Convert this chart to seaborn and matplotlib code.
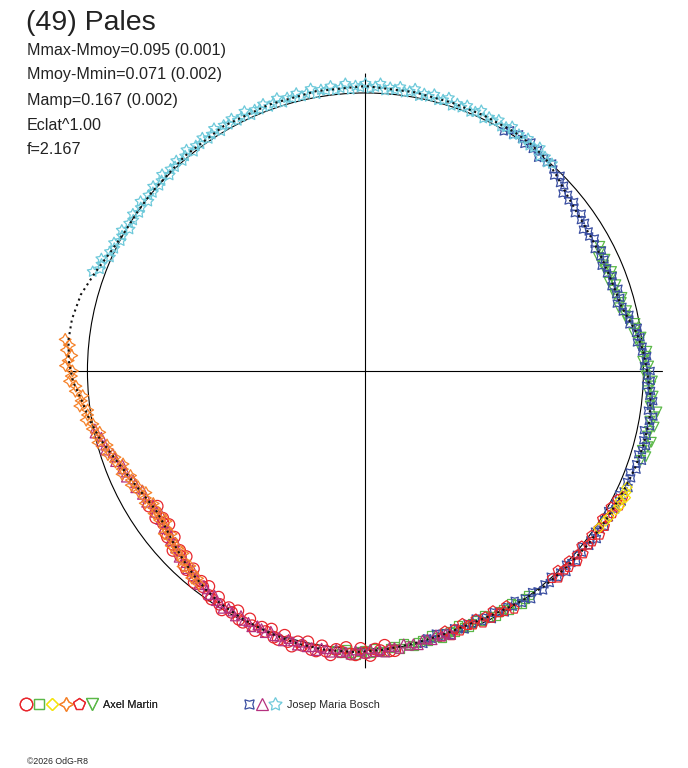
import numpy as np
import matplotlib
matplotlib.use("Agg")
import matplotlib.pyplot as plt
import seaborn as sns
from matplotlib.lines import Line2D
from matplotlib.legend_handler import HandlerTuple

sns.set_theme(style="white")
plt.rcParams['font.family'] = ['Liberation Sans', 'DejaVu Sans']

# phase angle in degrees, radius relative to the mean-magnitude circle
fit_deg = [0, 4, 8, 11, 14, 18, 22, 26, 30, 34, 38, 42, 46, 50, 54, 58, 65, 72, 80, 90,
           100, 110, 120, 130, 140, 145, 150, 155, 160, 165, 170, 174, 178, 182, 186, 190,
           194, 198, 202, 206, 210, 214, 218, 222, 226, 230, 234, 238, 244, 250, 256, 262,
           268, 274, 280, 286, 292, 298, 304, 310, 316, 322, 328, 334, 340, 345, 350, 355, 360]
fit_r = [1.013, 1.002, 0.985, 0.966, 0.950, 0.944, 0.942, 0.942, 0.943, 0.946, 0.953, 0.966,
         0.985, 1.003, 1.010, 1.013, 1.013, 1.014, 1.018, 1.025, 1.022, 1.019, 1.018, 1.010,
         1.002, 1.000, 1.000, 1.012, 1.035, 1.060, 1.072, 1.074, 1.068, 1.053, 1.026, 1.008,
         0.988, 0.962, 0.941, 0.925, 0.912, 0.905, 0.913, 0.928, 0.944, 0.960, 0.974, 0.986,
         0.996, 1.004, 1.011, 1.014, 1.012, 1.005, 0.996, 0.989, 0.985, 0.990, 1.000, 1.007,
         1.011, 1.015, 1.018, 1.023, 1.031, 1.035, 1.037, 1.030, 1.013]

# ---- Axel Martin ----
circle_deg = [212, 213, 214, 215, 216, 217, 218, 219, 220, 221, 222, 223, 224, 225, 226, 227,
              228, 229, 230, 231, 232, 233, 234, 235, 236, 237, 238, 239, 240, 241, 242, 243,
              244, 245, 246, 247, 248, 249, 250, 251, 252, 253, 254, 255, 256, 257, 258, 259,
              260, 261, 262, 263, 264, 265, 266, 267, 268, 269, 270, 271, 272, 273, 274, 275, 276]
circle_r = [0.918, 0.893, 0.909, 0.921, 0.901, 0.911, 0.897, 0.925, 0.930, 0.911, 0.932, 0.947,
            0.929, 0.941, 0.928, 0.956, 0.962, 0.943, 0.964, 0.979, 0.960, 0.972, 0.958, 0.985,
            0.990, 0.970, 0.990, 1.003, 0.983, 0.993, 0.977, 1.003, 1.006, 0.984, 1.003, 1.015,
            0.994, 1.004, 0.988, 1.013, 1.016, 0.994, 1.013, 1.025, 1.004, 1.013, 0.996, 1.021,
            1.023, 1.001, 1.018, 1.029, 1.007, 1.014, 0.997, 1.020, 1.022, 0.998, 1.014, 1.024,
            1.001, 1.007, 0.989, 1.011, 1.012]

square_deg = [264, 265, 266, 267, 268, 269, 270, 271, 272, 273, 274, 275, 276, 277, 278, 279,
              280, 281, 282, 283, 284, 285, 286, 287, 288, 289, 290, 291, 292, 293, 294, 295,
              296, 297, 298, 299, 300, 301, 302, 303, 304, 305, 306]
square_r = [1.009, 1.019, 1.002, 1.014, 1.021, 1.009, 1.005, 1.015, 0.997, 1.008, 1.014, 1.001,
            0.997, 1.006, 0.988, 0.999, 1.005, 0.993, 0.989, 0.998, 0.980, 0.992, 0.998, 0.986,
            0.983, 0.993, 0.975, 0.988, 0.994, 0.984, 0.982, 0.993, 0.977, 0.991, 0.999, 0.990,
            0.988, 1.001, 0.986, 1.000, 1.009, 0.999, 0.997]

diamond_deg = [326, 328, 329, 331, 332, 333, 334, 335, 336]
diamond_r = [1.012, 1.018, 1.022, 1.030, 1.035, 1.028, 1.040, 1.033, 1.030]

star4_deg = [174, 175, 176, 177, 178, 179, 180, 181, 182, 183, 184, 185, 186, 187, 188, 189,
             190, 191, 192, 193, 194, 195, 196, 197, 198, 199, 200, 201, 202, 203, 204, 205,
             206, 207, 208, 209, 210, 211, 212, 213, 214, 215, 216, 217, 218, 219, 220, 221,
             222, 223, 224, 225, 226, 227, 228, 229, 230, 231, 232]
star4_r = [1.086, 1.069, 1.078, 1.058, 1.070, 1.079, 1.054, 1.058, 1.065, 1.043, 1.046, 1.021,
           1.028, 1.035, 1.009, 1.012, 1.020, 0.999, 1.004, 0.981, 0.990, 0.996, 0.967, 0.969,
           0.974, 0.953, 0.957, 0.934, 0.943, 0.951, 0.925, 0.929, 0.937, 0.918, 0.924, 0.903,
           0.914, 0.924, 0.900, 0.906, 0.917, 0.902, 0.914, 0.898, 0.915, 0.931, 0.912, 0.924,
           0.940, 0.928, 0.942, 0.928, 0.946, 0.962, 0.944, 0.956, 0.972, 0.960, 0.973]

pentagon_deg = [286, 287, 288, 289, 290, 291, 292, 293, 294, 295, 296, 297, 298, 299, 300, 301,
                302, 312, 313, 314, 315, 316, 317, 318, 319, 320, 321, 322, 323, 324, 325, 326,
                327, 328, 329, 330, 331, 332, 333, 334]
pentagon_r = [0.995, 0.978, 1.001, 0.983, 0.995, 0.973, 0.987, 0.992, 0.977, 1.000, 0.984, 0.998,
              0.977, 0.994, 0.999, 0.985, 1.010, 1.004, 1.018, 0.997, 1.012, 1.017, 1.002, 1.025,
              1.009, 1.023, 1.001, 1.017, 1.021, 1.006, 1.029, 1.013, 1.026, 1.005, 1.021, 1.026,
              1.010, 1.034, 1.018, 1.032]

tridown_deg = [342, 343, 344, 345, 346, 347, 348, 349, 350, 351, 352, 353, 354, 355, 356, 357,
               358, 359, 0, 1, 2, 3, 4, 5, 6, 7, 8, 9, 10, 11, 12, 13, 14, 15, 16, 17, 18, 19,
               20, 21, 22, 23, 24, 25, 26, 27, 28]
tridown_r = [1.041, 1.055, 1.036, 1.052, 1.060, 1.041, 1.044, 1.058, 1.039, 1.053, 1.059, 1.032,
             1.033, 1.039, 1.017, 1.028, 1.033, 1.009, 1.009, 1.019, 0.998, 1.010, 1.015, 0.991,
             0.990, 0.999, 0.975, 0.984, 0.985, 0.959, 0.957, 0.964, 0.940, 0.953, 0.960, 0.938,
             0.940, 0.953, 0.933, 0.948, 0.955, 0.935, 0.938, 0.951, 0.932, 0.947, 0.955]

# ---- Josep Maria Bosch ----
astroid_deg = [282, 283, 284, 285, 286, 287, 288, 289, 290, 291, 292, 293, 294, 295, 296, 297,
               298, 299, 300, 301, 302, 303, 304, 305, 306, 307, 308, 309, 310, 311, 312, 313,
               314, 315, 316, 317, 318, 319, 320, 321, 322, 323, 324, 325, 326, 327, 328, 329,
               330, 331, 332, 333, 334, 335, 336, 337, 338, 339, 340, 341, 342, 343, 344, 345,
               346, 347, 348, 349, 350, 351, 352, 353, 354, 355, 356, 357, 358, 359, 0, 1, 2, 3,
               4, 5, 6, 7, 8, 9, 10, 11, 12, 13, 14, 15, 16, 17, 18, 19, 20, 21, 22, 23, 24, 25,
               26, 27, 28, 29, 30, 31, 32, 33, 34, 35, 36, 37, 38, 39, 40, 41, 42, 43, 44, 45,
               46, 47, 48, 49, 50, 51, 52, 53, 54, 55, 56, 57, 58, 59, 60]
astroid_r = [1.004, 0.987, 0.994, 0.978, 0.996, 0.986, 1.001, 0.979, 0.987, 0.996, 0.980, 0.989,
             0.975, 0.994, 0.986, 1.002, 0.982, 0.993, 1.003, 0.990, 1.000, 0.986, 1.007, 0.999,
             1.015, 0.996, 1.006, 1.016, 1.002, 1.011, 0.996, 1.016, 1.008, 1.023, 1.003, 1.013,
             1.022, 1.008, 1.017, 1.002, 1.022, 1.013, 1.029, 1.008, 1.018, 1.027, 1.013, 1.022,
             1.008, 1.027, 1.019, 1.035, 1.015, 1.025, 1.036, 1.022, 1.031, 1.018, 1.038, 1.030,
             1.046, 1.026, 1.035, 1.045, 1.030, 1.039, 1.024, 1.044, 1.035, 1.049, 1.026, 1.034,
             1.041, 1.025, 1.030, 1.011, 1.027, 1.014, 1.026, 1.002, 1.009, 1.015, 0.997, 1.001,
             0.982, 0.997, 0.983, 0.992, 0.964, 0.967, 0.971, 0.950, 0.953, 0.936, 0.954, 0.943,
             0.957, 0.936, 0.944, 0.953, 0.937, 0.945, 0.930, 0.949, 0.940, 0.955, 0.934, 0.943,
             0.953, 0.939, 0.947, 0.933, 0.953, 0.946, 0.962, 0.943, 0.954, 0.966, 0.954, 0.966,
             0.954, 0.978, 0.973, 0.993, 0.977, 0.991, 1.004, 0.994, 1.000, 0.987, 1.008, 1.000,
             1.016, 0.997, 1.007, 1.015, 1.002, 1.010, 0.995]

triup_deg = [192, 193, 194, 195, 196, 197, 198, 199, 200, 201, 202, 203, 204, 205, 206, 207,
             208, 209, 210, 211, 212, 213, 214, 215, 216, 217, 218, 219, 220, 221, 222, 223,
             224, 225, 226, 227, 228, 229, 230, 231, 232, 233, 234, 235, 236, 237, 238, 239,
             240, 241, 242, 243, 244, 245, 246, 247, 248, 249, 250, 251, 252, 253, 254, 255,
             256, 257, 258, 259, 260, 261, 262, 263, 264, 265, 266, 267, 268, 269, 270, 271,
             272, 273, 274, 275, 276, 277, 278, 279, 280, 281, 282, 283, 284, 285, 286, 287, 288]
triup_r = [0.995, 1.000, 0.979, 0.986, 0.974, 0.979, 0.956, 0.954, 0.958, 0.937, 0.945, 0.936,
           0.943, 0.923, 0.922, 0.929, 0.909, 0.919, 0.911, 0.920, 0.902, 0.903, 0.912, 0.897,
           0.912, 0.909, 0.923, 0.911, 0.917, 0.931, 0.919, 0.936, 0.935, 0.950, 0.938, 0.945,
           0.959, 0.947, 0.964, 0.963, 0.977, 0.965, 0.971, 0.984, 0.971, 0.987, 0.985, 0.998,
           0.984, 0.989, 1.000, 0.986, 1.000, 0.996, 1.009, 0.994, 0.998, 1.010, 0.995, 1.009,
           1.005, 1.017, 1.003, 1.007, 1.018, 1.003, 1.016, 1.012, 1.023, 1.008, 1.011, 1.021,
           1.005, 1.017, 1.012, 1.022, 1.006, 1.008, 1.017, 1.000, 1.012, 1.005, 1.015, 0.997,
           0.999, 1.007, 0.990, 1.001, 0.995, 1.005, 0.988, 0.989, 0.998, 0.981, 0.993, 0.987,
           0.998]

star5_deg = [48, 49, 50, 51, 52, 53, 54, 55, 56, 57, 58, 59, 60, 61, 62, 63, 64, 65, 66, 67, 68,
             69, 70, 71, 72, 73, 74, 75, 76, 77, 78, 79, 80, 81, 82, 83, 84, 85, 86, 87, 88, 89,
             90, 91, 92, 93, 94, 95, 96, 97, 98, 99, 100, 101, 102, 103, 104, 105, 106, 107, 108,
             109, 110, 111, 112, 113, 114, 115, 116, 117, 118, 119, 120, 121, 122, 123, 124, 125,
             126, 127, 128, 129, 130, 131, 132, 133, 134, 135, 136, 137, 138, 139, 140, 141, 142,
             143, 144, 145, 146, 147, 148, 149, 150, 151, 152, 153, 154, 155, 156, 157, 158, 159,
             160]
star5_r = [1.003, 0.995, 1.005, 0.995, 1.019, 1.007, 1.003, 1.020, 1.008, 1.014, 1.003, 1.025,
           1.012, 1.006, 1.022, 1.009, 1.015, 1.003, 1.025, 1.012, 1.006, 1.022, 1.009, 1.016,
           1.004, 1.027, 1.014, 1.009, 1.025, 1.013, 1.019, 1.008, 1.030, 1.018, 1.012, 1.029,
           1.017, 1.023, 1.012, 1.035, 1.023, 1.017, 1.034, 1.021, 1.026, 1.014, 1.036, 1.022,
           1.016, 1.032, 1.019, 1.024, 1.012, 1.034, 1.020, 1.014, 1.029, 1.016, 1.022, 1.010,
           1.031, 1.018, 1.012, 1.028, 1.015, 1.020, 1.008, 1.030, 1.017, 1.011, 1.027, 1.014,
           1.020, 1.007, 1.028, 1.015, 1.008, 1.023, 1.009, 1.014, 1.002, 1.023, 1.009, 1.002,
           1.017, 1.004, 1.009, 0.996, 1.017, 1.003, 0.997, 1.012, 0.998, 1.004, 0.991, 1.013,
           0.999, 0.993, 1.009, 0.996, 1.002, 0.990, 1.012, 1.001, 0.997, 1.015, 1.005, 1.014,
           1.006, 1.032, 1.024, 1.023, 1.044]

RED = '#e8262c'
GREEN = '#5bb848'
YELLOW = '#f4e40c'
ORANGE = '#f5822a'
BLUE = '#3b4fa1'
MAGENTA = '#b5317f'
CYAN = '#6dc9da'

series = [
    (square_deg, square_r, 's', 36, GREEN),
    (tridown_deg, tridown_r, 'v', 48, GREEN),
    (astroid_deg, astroid_r, (4, 1, 45), 55, BLUE),
    (circle_deg, circle_r, 'o', 68, RED),
    (pentagon_deg, pentagon_r, 'p', 52, RED),
    (diamond_deg, diamond_r, 'D', 28, YELLOW),
    (triup_deg, triup_r, '^', 40, MAGENTA),
    (star4_deg, star4_r, (4, 1, 0), 72, ORANGE),
    (star5_deg, star5_r, (5, 1, 0), 66, CYAN),
]

fig = plt.figure(figsize=(6.88, 7.68), dpi=100)
ax = fig.add_axes([0.0988, 0.1297, 0.8647, 0.7746], projection='polar')
ax.set_facecolor('none')

for deg, r, marker, size, col in series:
    sns.scatterplot(x=np.deg2rad(deg), y=r, ax=ax, marker=marker, s=size, color=col,
                    facecolors='none', edgecolor=col, linewidth=0.9, legend=False,
                    zorder=3, clip_on=False)

# fitted curve drawn as a dotted black line
ax.plot(np.deg2rad(fit_deg), fit_r, color='#111111', lw=1.5, ls=(0, (1.0, 1.8)), zorder=4,
        clip_on=False)

ax.set_ylim(0, 1.07)
ax.set_yticks([1.0])
ax.set_yticklabels([])
ax.set_xticks(np.deg2rad([0, 90, 180, 270]))
ax.set_xticklabels([])
ax.tick_params(length=0)
ax.grid(True, color='black', lw=0.8, ls='-')
ax.spines['polar'].set_visible(False)
ax.set_xlabel('')
ax.set_ylabel('')

fig.text(26 / 688, 1 - 23 / 768, '(49) Pales', fontsize=20.5, va='center', ha='left',
         color='#222222')
info_lines = ['Mmax-Mmoy=0.095 (0.001)', 'Mmoy-Mmin=0.071 (0.002)', 'Mamp=0.167 (0.002)',
              'Eclat^1.00', 'f=2.167']
for i, line in enumerate(info_lines):
    fig.text(27 / 688, 1 - (50 + 25 * i) / 768, line, fontsize=11.6, va='center', ha='left',
             color='#222222')


def mk(marker, col, ms=8):
    return Line2D([], [], marker=marker, ls='none', mfc='none', mec=col, ms=ms, mew=0.9)


martin = (mk('o', RED, 9), mk('s', GREEN, 7.5), mk('D', YELLOW, 6.5), mk((4, 1, 0), ORANGE, 10),
          mk('p', RED, 8.5), mk('v', GREEN, 8))
bosch = (mk((4, 1, 45), BLUE, 9.5), mk('^', MAGENTA, 8), mk((5, 1, 0), CYAN, 10))

leg1 = fig.legend([martin], ['Axel Martin'], loc='center left',
                  bbox_to_anchor=(20 / 688, 1 - 705 / 768), frameon=False, fontsize=7.8,
                  handlelength=7.2, handletextpad=0.45, borderpad=0, borderaxespad=0,
                  handler_map={tuple: HandlerTuple(ndivide=None, pad=0.15)})
fig.add_artist(leg1)
fig.legend([bosch], ['Josep Maria Bosch'], loc='center left',
           bbox_to_anchor=(243 / 688, 1 - 705 / 768), frameon=False, fontsize=7.8,
           handlelength=3.5, handletextpad=0.55, borderpad=0, borderaxespad=0,
           handler_map={tuple: HandlerTuple(ndivide=None, pad=0.15)})

fig.text(27 / 688, 1 - 762 / 768, '\u00a92026 OdG-R8', fontsize=6.3, va='center', ha='left')

fig.savefig('out.png', dpi=100)
